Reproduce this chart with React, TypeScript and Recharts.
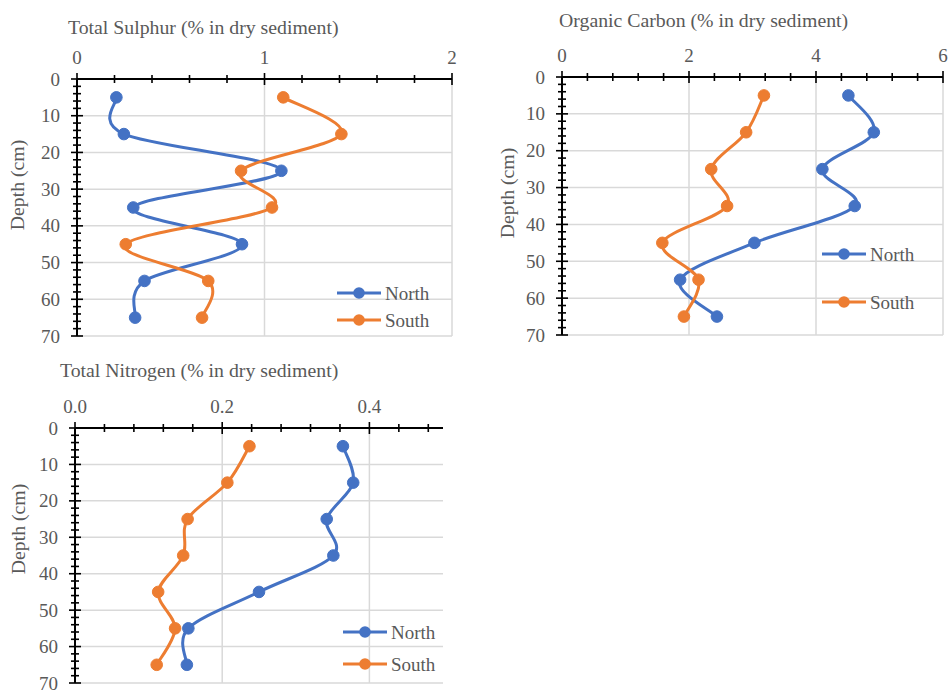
import React from "react";
import {
  LineChart,
  Line,
  XAxis,
  YAxis,
  CartesianGrid,
  Legend,
} from "recharts";

// depth of each sample (cm)
const depths = [5, 15, 25, 35, 45, 55, 65];

const sulphurNorth = [0.21, 0.25, 1.09, 0.3, 0.88, 0.36, 0.31];
const sulphurSouth = [1.1, 1.41, 0.875, 1.04, 0.26, 0.7, 0.667];
const carbonNorth = [4.51, 4.91, 4.1, 4.61, 3.03, 1.86, 2.44];
const carbonSouth = [3.18, 2.9, 2.35, 2.6, 1.58, 2.15, 1.92];
const nitrogenNorth = [0.364, 0.378, 0.342, 0.351, 0.25, 0.154, 0.152];
const nitrogenSouth = [0.237, 0.207, 0.153, 0.147, 0.113, 0.136, 0.111];

const depthTicks = [
  0, 2, 4, 6, 8, 10, 12, 14, 16, 18, 20, 22, 24, 26, 28, 30, 32, 34, 36, 38,
  40, 42, 44, 46, 48, 50, 52, 54, 56, 58, 60, 62, 64, 66, 68, 70,
];
const depthMajor = [0, 10, 20, 30, 40, 50, 60, 70];

const sulphurTicks = [0, 0.2, 0.4, 0.6, 0.8, 1, 1.2, 1.4, 1.6, 1.8, 2];
const sulphurMajor = [0, 1, 2];
const carbonTicks = [
  0, 0.4, 0.8, 1.2, 1.6, 2, 2.4, 2.8, 3.2, 3.6, 4, 4.4, 4.8, 5.2, 5.6, 6,
];
const carbonMajor = [0, 2, 4, 6];
const nitrogenTicks = [
  0, 0.04, 0.08, 0.12, 0.16, 0.2, 0.24, 0.28, 0.32, 0.36, 0.4, 0.44, 0.48,
];
const nitrogenMajor = [0, 0.2, 0.4];

const NORTH = "#4472C4";
const SOUTH = "#ED7D31";
const TEXT = "#595959";
const FONT = '"Liberation Serif", serif';
const FS = 19;

// Excel-like smoothed line (catmull-rom style bezier)
function excelSmooth(context: any) {
  let pts: number[][] = [];
  return {
    areaStart() {},
    areaEnd() {},
    lineStart() {
      pts = [];
    },
    point(x: number, y: number) {
      pts.push([+x, +y]);
    },
    lineEnd() {
      const n = pts.length;
      if (!n) return;
      context.moveTo(pts[0][0], pts[0][1]);
      for (let i = 0; i < n - 1; i++) {
        const p0 = pts[i - 1] || pts[i];
        const p1 = pts[i];
        const p2 = pts[i + 1];
        const p3 = pts[i + 2] || pts[i + 1];
        context.bezierCurveTo(
          p1[0] + (p2[0] - p0[0]) / 6,
          p1[1] + (p2[1] - p0[1]) / 6,
          p2[0] - (p3[0] - p1[0]) / 6,
          p2[1] - (p3[1] - p1[1]) / 6,
          p2[0],
          p2[1]
        );
      }
    },
  };
}

const makeRows = (north: number[], south: number[]) =>
  depths.map((d, i) => ({ depth: d, North: north[i], South: south[i] }));

const makeXTick =
  (major: number[], fmt: (v: number) => string) => (props: any) => {
    const { x, y, payload } = props;
    const isMajor = major.includes(payload.value);
    const h = isMajor ? 6 : 4;
    return (
      <g>
        <line x1={x} x2={x} y1={y - h} y2={y + h} stroke="#000" strokeWidth={1.6} />
        {isMajor && (
          <text
            x={x}
            y={y - 22}
            textAnchor="middle"
            dominantBaseline="central"
            fill={TEXT}
            fontSize={FS}
            fontFamily={FONT}
          >
            {fmt(payload.value)}
          </text>
        )}
      </g>
    );
  };

const YTick = (props: any) => {
  const { x, y, payload } = props;
  const isMajor = depthMajor.includes(payload.value);
  const h = isMajor ? 6 : 4;
  return (
    <g>
      <line x1={x - h} x2={x + h} y1={y} y2={y} stroke="#000" strokeWidth={1.6} />
      {isMajor && (
        <text
          x={x - 17}
          y={y}
          textAnchor="end"
          dominantBaseline="central"
          fill={TEXT}
          fontSize={FS}
          fontFamily={FONT}
        >
          {payload.value}
        </text>
      )}
    </g>
  );
};

const makeLegend = (gap: number) => (props: any) => {
  const { payload } = props;
  return (
    <svg width={120} height={gap + 22}>
      {(payload || []).map((p: any, i: number) => (
        <g key={p.value} transform={`translate(0, ${11 + i * gap})`}>
          <line x1={0} x2={44} y1={0} y2={0} stroke={p.color} strokeWidth={3} />
          <circle cx={22} cy={0} r={5.8} fill={p.color} />
          <text
            x={48}
            y={0}
            dominantBaseline="central"
            fill={TEXT}
            fontSize={FS}
            fontFamily={FONT}
          >
            {p.value}
          </text>
        </g>
      ))}
    </svg>
  );
};

interface ProfileProps {
  rows: any[];
  width: number;
  height: number;
  margin: { top: number; right: number; bottom: number; left: number };
  xDomain: [number, number];
  xTicks: number[];
  xMajor: number[];
  gridX: number[];
  fmt: (v: number) => string;
  legendPos: { left: number; top: number };
  legendGap: number;
}

const Profile: React.FC<ProfileProps> = ({
  rows,
  width,
  height,
  margin,
  xDomain,
  xTicks,
  xMajor,
  gridX,
  fmt,
  legendPos,
  legendGap,
}) => (
  <LineChart layout="vertical" width={width} height={height} data={rows} margin={margin}>
    <CartesianGrid
      stroke="#d9d9d9"
      strokeWidth={1.5}
      horizontalValues={[10, 20, 30, 40, 50, 60, 70]}
      verticalValues={gridX}
    />
    <XAxis
      type="number"
      orientation="top"
      domain={xDomain}
      ticks={xTicks}
      interval={0}
      height={40}
      tickSize={0}
      tickMargin={0}
      tickLine={false}
      axisLine={{ stroke: "#000", strokeWidth: 2 }}
      tick={makeXTick(xMajor, fmt)}
      allowDataOverflow
    />
    <YAxis
      type="number"
      dataKey="depth"
      domain={[0, 70]}
      ticks={depthTicks}
      interval={0}
      width={60}
      tickSize={0}
      tickMargin={0}
      tickLine={false}
      axisLine={{ stroke: "#000", strokeWidth: 2 }}
      tick={YTick}
    />
    <Legend
      layout="vertical"
      align="center"
      verticalAlign="middle"
      content={makeLegend(legendGap)}
      wrapperStyle={{ left: legendPos.left, top: legendPos.top, width: 120 }}
    />
    <Line
      dataKey="North"
      name="North"
      type={excelSmooth as any}
      stroke={NORTH}
      strokeWidth={3}
      dot={{ r: 5.8, fill: NORTH, stroke: NORTH, strokeWidth: 1 }}
      isAnimationActive={false}
    />
    <Line
      dataKey="South"
      name="South"
      type={excelSmooth as any}
      stroke={SOUTH}
      strokeWidth={3}
      dot={{ r: 5.8, fill: SOUTH, stroke: SOUTH, strokeWidth: 1 }}
      isAnimationActive={false}
    />
  </LineChart>
);

const textStyle: React.CSSProperties = {
  position: "absolute",
  color: TEXT,
  fontFamily: FONT,
  fontSize: 19.8,
  lineHeight: "20px",
  whiteSpace: "nowrap",
};

const yLabel = (cx: number, cy: number) => (
  <div
    style={{
      ...textStyle,
      left: cx,
      top: cy,
      transform: "translate(-50%, -50%) rotate(-90deg)",
    }}
  >
    Depth (cm)
  </div>
);

export default function App() {
  return (
    <div
      style={{
        position: "absolute",
        left: 0,
        top: 0,
        width: 950,
        height: 691,
        background: "#fff",
        fontFamily: FONT,
      }}
    >
      <div style={{ position: "absolute", left: 0, top: 0 }}>
        <Profile
          rows={makeRows(sulphurNorth, sulphurSouth)}
          width={470}
          height={350}
          margin={{ top: 39, right: 18, bottom: 14, left: 17 }}
          xDomain={[0, 2]}
          xTicks={sulphurTicks}
          xMajor={sulphurMajor}
          gridX={[1, 2]}
          fmt={(v) => String(v)}
          legendPos={{ left: 337, top: 282 }}
          legendGap={27}
        />
      </div>
      <div style={{ position: "absolute", left: 480, top: 0 }}>
        <Profile
          rows={makeRows(carbonNorth, carbonSouth)}
          width={470}
          height={350}
          margin={{ top: 37, right: 7, bottom: 15, left: 22 }}
          xDomain={[0, 6]}
          xTicks={carbonTicks}
          xMajor={carbonMajor}
          gridX={[2, 4, 6]}
          fmt={(v) => String(v)}
          legendPos={{ left: 342, top: 243 }}
          legendGap={48}
        />
      </div>
      <div style={{ position: "absolute", left: 0, top: 350 }}>
        <Profile
          rows={makeRows(nitrogenNorth, nitrogenSouth)}
          width={470}
          height={341}
          margin={{ top: 38, right: 27, bottom: 8, left: 15 }}
          xDomain={[0, 0.5]}
          xTicks={nitrogenTicks}
          xMajor={nitrogenMajor}
          gridX={[0.2, 0.4]}
          fmt={(v) => v.toFixed(1)}
          legendPos={{ left: 343, top: 271 }}
          legendGap={32}
        />
      </div>

      <div style={{ ...textStyle, left: 68, top: 17 }}>
        Total Sulphur (% in dry sediment)
      </div>
      <div style={{ ...textStyle, left: 559, top: 10 }}>
        Organic Carbon (% in dry sediment)
      </div>
      <div style={{ ...textStyle, left: 60, top: 360 }}>
        Total Nitrogen (% in dry sediment)
      </div>
      {yLabel(17, 185)}
      {yLabel(507, 193)}
      {yLabel(18, 529)}
    </div>
  );
}
